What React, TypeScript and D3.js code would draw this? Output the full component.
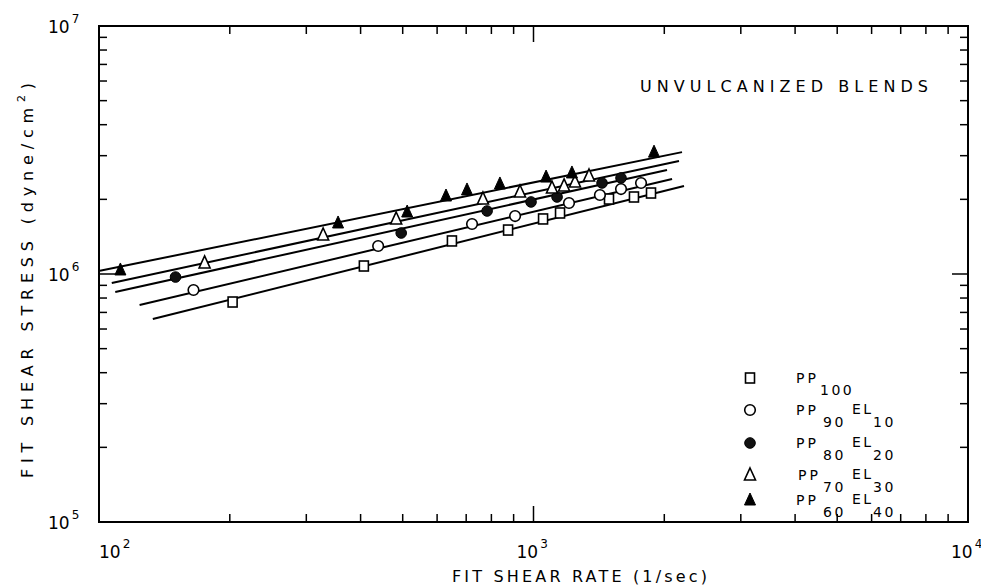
import React from "react";
import * as d3 from "d3";

// ---------- data ----------
const X_TICK_EXPONENTS = [2, 3, 4];
const Y_TICK_EXPONENTS = [5, 6, 7];
const MINOR_MULTIPLIERS = [2, 3, 4, 5, 6, 7, 8, 9];

const TITLE = "UNVULCANIZED BLENDS";
const X_LABEL = "FIT SHEAR RATE (1/sec)";
const Y_LABEL_MAIN = "FIT SHEAR STRESS  (dyne/cm";
const Y_LABEL_SUP = "2";
const Y_LABEL_END = ")";

// [shear rate (1/s), shear stress (dyne/cm^2)]
const pp100 = [[203, 7.71e5], [407, 1.077e6], [649, 1.359e6], [874, 1.504e6], [1052, 1.667e6], [1151, 1.762e6], [1492, 2.006e6], [1703, 2.044e6], [1864, 2.121e6]];
const pp90el10 = [[165, 8.62e5], [439, 1.297e6], [722, 1.591e6], [907, 1.713e6], [1207, 1.933e6], [1422, 2.082e6], [1590, 2.201e6], [1768, 2.328e6]];
const pp80el20 = [[150, 9.72e5], [496, 1.463e6], [782, 1.795e6], [987, 1.952e6], [1133, 2.044e6], [1438, 2.328e6], [1590, 2.439e6]];
const pp70el30 = [[175, 1.108e6], [328, 1.436e6], [483, 1.667e6], [765, 2.006e6], [931, 2.141e6], [1103, 2.223e6], [1176, 2.265e6], [1246, 2.35e6], [1342, 2.485e6]];
const pp60el40 = [[112, 1.038e6], [355, 1.606e6], [512, 1.778e6], [629, 2.063e6], [703, 2.182e6], [837, 2.307e6], [1069, 2.46e6], [1226, 2.555e6], [1894, 3.1e6]];

// fitted power-law lines: [start, end]
const fit100 = [[133, 6.58e5], [2220, 2.264e6]];
const fit90 = [[124, 7.5e5], [2084, 2.416e6]];
const fit80 = [[109, 8.46e5], [2029, 2.627e6]];
const fit70 = [[107, 9.2e5], [2162, 2.855e6]];
const fit60 = [[100.5, 1.03e6], [2197, 3.1e6]];

const SERIES_MARKERS = ["square", "circle", "filledCircle", "triangle", "filledTriangle"];
const SERIES_LABELS = [
  ["PP", "100", "", ""],
  ["PP", "90", "EL", "10"],
  ["PP", "80", "EL", "20"],
  ["PP", "70", "EL", "30"],
  ["PP", "60", "EL", "40"],
];
const SERIES_POINTS = [pp100, pp90el10, pp80el20, pp70el30, pp60el40];
const SERIES_FITS = [fit100, fit90, fit80, fit70, fit60];

// ---------- layout ----------
const W = 981;
const H = 586;
const LEFT = 99;
const RIGHT = 968;
const TOP = 26;
const BOTTOM = 522;
const FONT = "'DejaVu Sans', 'Liberation Sans', sans-serif";

const x = d3.scaleLog().domain([1e2, 1e4]).range([LEFT, RIGHT]);
const y = d3.scaleLog().domain([1e5, 1e7]).range([BOTTOM, TOP]);

function Marker({ type, cx, cy }: { type: string; cx: number; cy: number }) {
  const sw = 1.6;
  if (type === "square") {
    return <rect x={cx - 4.5} y={cy - 5} width={9} height={10} fill="#fff" stroke="#000" strokeWidth={sw} />;
  }
  if (type === "circle") {
    return <circle cx={cx} cy={cy} r={5.3} fill="#fff" stroke="#000" strokeWidth={sw} />;
  }
  if (type === "filledCircle") {
    return <circle cx={cx} cy={cy} r={5.3} fill="#111" stroke="#000" strokeWidth={1} />;
  }
  const tri = `M${cx},${cy - 7} L${cx + 5.5},${cy + 5} L${cx - 5.5},${cy + 5} Z`;
  if (type === "triangle") {
    return <path d={tri} fill="#fff" stroke="#000" strokeWidth={sw} strokeLinejoin="miter" />;
  }
  return <path d={tri} fill="#000" stroke="#000" strokeWidth={1} />;
}

export default function App() {
  const line = d3
    .line<number[]>()
    .x((d) => x(d[0]))
    .y((d) => y(d[1]));

  const xMinor: number[] = [];
  [1e2, 1e3].forEach((dec) => MINOR_MULTIPLIERS.forEach((m) => xMinor.push(dec * m)));
  const yMinor: number[] = [];
  [1e5, 1e6].forEach((dec) => MINOR_MULTIPLIERS.forEach((m) => yMinor.push(dec * m)));

  const MAJ = 16;
  const MIN = 8;

  const legendRowY = [378, 410, 443, 475, 500];

  return (
    <svg
      width={W}
      height={H}
      viewBox={`0 0 ${W} ${H}`}
      style={{ position: "absolute", left: 0, top: 0, background: "#fff" }}
      fontFamily={FONT}
    >
      <rect x={0} y={0} width={W} height={H} fill="#fff" />

      {/* ticks */}
      <g stroke="#000" strokeWidth={1.5}>
        {X_TICK_EXPONENTS.map((e) => {
          const px = x(Math.pow(10, e));
          return (
            <g key={"xM" + e}>
              <line x1={px} x2={px} y1={BOTTOM} y2={BOTTOM - MAJ} />
              <line x1={px} x2={px} y1={TOP} y2={TOP + MAJ} />
            </g>
          );
        })}
        {xMinor.map((v) => (
          <g key={"xm" + v}>
            <line x1={x(v)} x2={x(v)} y1={BOTTOM} y2={BOTTOM - MIN} />
            <line x1={x(v)} x2={x(v)} y1={TOP} y2={TOP + MIN} />
          </g>
        ))}
        {Y_TICK_EXPONENTS.map((e) => {
          const py = y(Math.pow(10, e));
          return (
            <g key={"yM" + e}>
              <line x1={LEFT} x2={LEFT + MAJ} y1={py} y2={py} />
              <line x1={RIGHT} x2={RIGHT - MAJ} y1={py} y2={py} />
            </g>
          );
        })}
        {yMinor.map((v) => (
          <g key={"ym" + v}>
            <line x1={LEFT} x2={LEFT + MIN} y1={y(v)} y2={y(v)} />
            <line x1={RIGHT} x2={RIGHT - MIN} y1={y(v)} y2={y(v)} />
          </g>
        ))}
      </g>

      {/* frame */}
      <rect x={LEFT} y={TOP} width={RIGHT - LEFT} height={BOTTOM - TOP} fill="none" stroke="#000" strokeWidth={2} />

      {/* tick labels */}
      {X_TICK_EXPONENTS.map((e, i) => {
        const px = x(Math.pow(10, e));
        return (
          <text key={"xl" + e} x={px + (i === 0 ? 0 : -17)} y={558} fontSize={17} fill="#000">
            10
            <tspan fontSize={12} dx={2} dy={-10}>
              {e}
            </tspan>
          </text>
        );
      })}
      {Y_TICK_EXPONENTS.map((e) => {
        const py = y(Math.pow(10, e));
        return (
          <text key={"yl" + e} x={48} y={py + 7} fontSize={17} fill="#000">
            10
            <tspan fontSize={12} dx={2} dy={-10}>
              {e}
            </tspan>
          </text>
        );
      })}

      {/* fit lines */}
      {SERIES_FITS.map((f, i) => (
        <path key={"fit" + i} d={line(f) || ""} fill="none" stroke="#000" strokeWidth={2} />
      ))}

      {/* points */}
      {SERIES_POINTS.map((pts, i) =>
        pts.map((p, j) => <Marker key={`p${i}-${j}`} type={SERIES_MARKERS[i]} cx={x(p[0])} cy={y(p[1])} />)
      )}

      {/* title */}
      <text x={640} y={92} fontSize={16} fill="#000" textLength={288} lengthAdjust="spacing">
        {TITLE}
      </text>

      {/* legend */}
      {SERIES_LABELS.map((parts, i) => {
        const ly = legendRowY[i];
        return (
          <g key={"lg" + i}>
            <Marker type={SERIES_MARKERS[i]} cx={750} cy={ly} />
            <text x={i === 3 ? 798 : 796} y={ly + 5} fontSize={14} fill="#000" letterSpacing={3}>
              {parts[0]}
            </text>
            <text x={i === 0 ? 820 : 823} y={ly + 17} fontSize={14} fill="#000" letterSpacing={2.5}>
              {parts[1]}
            </text>
            {parts[2] && (
              <text x={852} y={ly + 4} fontSize={14} fill="#000" letterSpacing={2.5}>
                {parts[2]}
              </text>
            )}
            {parts[3] && (
              <text x={873} y={ly + 17} fontSize={14} fill="#000" letterSpacing={2.5}>
                {parts[3]}
              </text>
            )}
          </g>
        );
      })}

      {/* axis labels */}
      <text x={452} y={582} fontSize={16} fill="#000" textLength={255} lengthAdjust="spacing">
        {X_LABEL}
      </text>
      <text
        transform={`translate(33, 478) rotate(-90)`}
        x={0}
        y={0}
        fontSize={16}
        fill="#000"
        textLength={395}
        lengthAdjust="spacing"
      >
        {Y_LABEL_MAIN}
        <tspan fontSize={11} dy={-8}>
          {Y_LABEL_SUP}
        </tspan>
        <tspan dy={8}>{Y_LABEL_END}</tspan>
      </text>
    </svg>
  );
}
